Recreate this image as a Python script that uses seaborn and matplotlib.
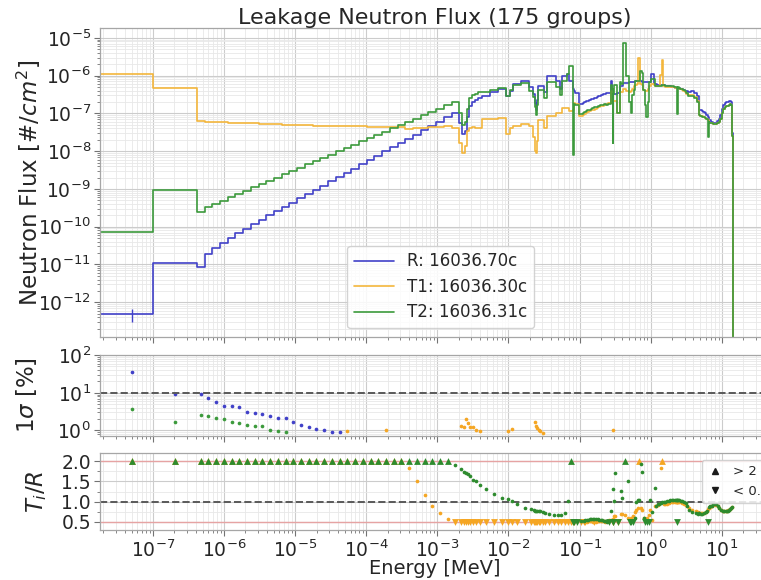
import numpy as np
import matplotlib
matplotlib.use("Agg")
import matplotlib.pyplot as plt
from matplotlib.lines import Line2D
from matplotlib.ticker import LogLocator, FixedLocator, MultipleLocator, FormatStrFormatter, NullFormatter
import seaborn as sns

# ---------------------------------------------------------------- data
# 175-group energy boundaries [MeV], ascending
edges = [
    1.0e-11, 1.0e-7, 4.1399e-7, 5.3158e-7, 6.8256e-7, 8.7642e-7, 1.1254e-6, 1.4450e-6, 1.8554e-6, 2.3824e-6,
    3.0590e-6, 3.9279e-6, 5.0435e-6, 6.4760e-6, 8.3153e-6, 1.0677e-5, 1.3710e-5, 1.7604e-5, 2.2603e-5, 2.9023e-5,
    3.7266e-5, 4.7851e-5, 6.1442e-5, 7.8893e-5, 1.0130e-4, 1.3007e-4, 1.6702e-4, 2.1445e-4, 2.7536e-4, 3.5357e-4,
    4.5400e-4, 5.8295e-4, 7.4852e-4, 9.6112e-4, 1.2341e-3, 1.5846e-3, 2.0347e-3, 2.2487e-3, 2.4852e-3, 2.6126e-3,
    2.7465e-3, 3.0354e-3, 3.3546e-3, 3.7074e-3, 4.3074e-3, 5.5308e-3, 7.1017e-3, 9.1188e-3, 1.0595e-2, 1.1709e-2,
    1.5034e-2, 1.9305e-2, 2.1875e-2, 2.3579e-2, 2.4176e-2, 2.4788e-2, 2.6058e-2, 2.7000e-2, 2.8501e-2, 3.1828e-2,
    3.4307e-2, 4.0868e-2, 4.6309e-2, 5.2475e-2, 5.6562e-2, 6.7379e-2, 7.2000e-2, 7.9500e-2, 8.2500e-2, 8.6517e-2,
    9.8037e-2, 1.1109e-1, 1.1679e-1, 1.2277e-1, 1.2907e-1, 1.3569e-1, 1.4264e-1, 1.4996e-1, 1.5764e-1, 1.6573e-1,
    1.7422e-1, 1.8316e-1, 1.9255e-1, 2.0242e-1, 2.1280e-1, 2.2371e-1, 2.3518e-1, 2.4724e-1, 2.7324e-1, 2.8725e-1,
    2.9452e-1, 2.9720e-1, 2.9850e-1, 3.0197e-1, 3.3373e-1, 3.6883e-1, 3.8774e-1, 4.0762e-1, 4.5049e-1, 4.9787e-1,
    5.2340e-1, 5.5023e-1, 5.7844e-1, 6.0810e-1, 6.3928e-1, 6.7206e-1, 7.0651e-1, 7.4274e-1, 7.8082e-1, 8.2085e-1,
    8.6294e-1, 9.0718e-1, 9.6164e-1, 1.0026, 1.1080, 1.1648, 1.2246, 1.2874, 1.3534, 1.4227,
    1.4957, 1.5724, 1.6530, 1.7377, 1.8268, 1.9205, 2.0190, 2.1225, 2.2313, 2.3069,
    2.3457, 2.3653, 2.3851, 2.4660, 2.5924, 2.7253, 2.8651, 3.0119, 3.1664, 3.3287,
    3.6788, 4.0657, 4.4933, 4.7237, 4.9659, 5.2205, 5.4881, 5.7695, 6.0653, 6.3763,
    6.5924, 6.7032, 7.0469, 7.4082, 7.7880, 8.1873, 8.6071, 9.0484, 9.5123, 10.0,
    10.513, 11.052, 11.618, 12.214, 12.523, 12.840, 13.499, 13.840, 14.191, 14.550,
    14.918, 15.683, 16.487, 16.905, 17.333, 19.640,
]

# reference library R, leakage flux per group [#/cm^2]
flux_r = [
    4.8e-13, 1.1e-11, 8.5e-12, 1.9e-11, 2.75e-11, 3.8e-11, 5.0e-11, 6.8e-11, 8.9e-11, 1.17e-10,
    1.51e-10, 2.0e-10, 2.57e-10, 3.31e-10, 4.27e-10, 5.6e-10, 7.2e-10, 9.3e-10, 1.23e-9, 1.58e-9,
    2.04e-9, 2.63e-9, 3.47e-9, 4.47e-9, 5.75e-9, 7.6e-9, 9.8e-9, 1.26e-8, 1.66e-8, 2.14e-8,
    2.75e-8, 3.55e-8, 4.7e-8, 6.0e-8, 7.9e-8, 1.05e-7, 5.6e-8, 2.9e-8, 3.5e-8, 8.0e-8,
    1.6e-7, 1.95e-7, 2.2e-7, 2.6e-7, 2.9e-7, 3.6e-7, 4.4e-7, 2.8e-7, 4.0e-7, 6.0e-7,
    7.4e-7, 4.9e-7, 3.3e-7, 1.9e-7, 1.2e-7, 2.2e-7, 5.4e-7, 5.4e-7, 5.4e-7, 3.6e-7,
    1.0e-6, 1.0e-6, 7.4e-7, 4.5e-7, 1.0e-6, 1.1e-6, 7.0e-7, 4.5e-7, 4.0e-7, 3.5e-7,
    1.8e-7, 1.93e-7, 2.0e-7, 2.09e-7, 2.19e-7, 2.24e-7, 2.34e-7, 2.4e-7, 2.51e-7, 2.63e-7,
    2.69e-7, 2.82e-7, 2.95e-7, 3.02e-7, 3.16e-7, 3.31e-7, 3.39e-7, 3.55e-7, 7.4e-7, 3.3e-7,
    3.3e-7, 3.3e-7, 3.3e-7, 3.3e-7, 3.5e-7, 5.4e-7, 5.4e-7, 6.5e-7, 6.5e-7, 6.6e-7,
    6.7e-7, 6.8e-7, 6.9e-7, 7.0e-7, 7.0e-7, 7.1e-7, 7.0e-7, 6.9e-7, 6.8e-7, 6.8e-7,
    6.7e-7, 6.6e-7, 6.6e-7, 1.1e-6, 6.1e-7, 6.0e-7, 5.8e-7, 5.7e-7, 5.6e-7, 5.6e-7,
    5.5e-7, 5.4e-7, 5.3e-7, 5.3e-7, 5.2e-7, 5.1e-7, 5.0e-7, 4.9e-7, 4.8e-7, 4.7e-7,
    4.7e-7, 4.7e-7, 4.7e-7, 4.6e-7, 4.4e-7, 4.3e-7, 4.1e-7, 4.0e-7, 3.8e-7, 3.6e-7,
    3.8e-7, 3.5e-7, 2.8e-7, 1.25e-7, 1.2e-7, 1.15e-7, 1.1e-7, 1.0e-7, 9.0e-8, 8.0e-8,
    7.0e-8, 6.5e-8, 6.0e-8, 5.7e-8, 5.6e-8, 5.7e-8, 6.2e-8, 7.0e-8, 9.0e-8, 1.3e-7,
    1.7e-7, 1.9e-7, 2.0e-7, 2.0e-7, 2.1e-7, 2.1e-7, 2.0e-7, 3.0e-8, 0.0, 0.0,
    0.0, 0.0, 0.0, 0.0, 0.0,
]

# test library T1 relative to R, per group
t1_over_r = [
    2.3e6, 4.4e4, 7.3e3, 3.16e3, 2.15e3, 1.53e3, 1.14e3, 824, 618, 462,
    351, 260, 198, 151, 115, 86.6, 66.7, 51.1, 38.2, 29.4,
    22.5, 17.3, 13.0, 10.1, 7.74, 5.79, 4.49, 3.45, 2.59, 1.83,
    1.5, 1.17, 0.9, 0.72, 0.58, 0.4, 0.29, 0.31, 0.4, 0.42,
    0.26, 0.22, 0.19, 0.16, 0.25, 0.2, 0.17, 0.1, 0.105, 0.078,
    0.072, 0.096, 0.07, 0.053, 0.075, 0.086, 0.12, 0.12, 0.12, 0.117,
    0.087, 0.087, 0.14, 0.23, 0.14, 0.127, 0.17, 0.27, 0.47, 0.52,
    0.48, 0.47, 0.49, 0.5, 0.51, 0.52, 0.51, 0.5, 0.49, 0.5,
    0.51, 0.52, 0.53, 0.52, 0.51, 0.5, 0.52, 0.54, 0.54, 0.56,
    0.06, 0.06, 0.64, 0.64, 0.3, 0.7, 0.7, 0.68, 0.6, 0.55,
    0.6, 0.65, 0.75, 0.8, 0.85, 4.0, 0.85, 0.8, 0.6, 0.56,
    0.6, 0.68, 0.8, 0.55, 0.9, 0.9, 0.92, 0.95, 1.82, 4.5,
    0.95, 0.93, 0.95, 0.96, 0.98, 0.99, 1.0, 1.0, 1.0, 1.0,
    1.0, 1.0, 1.0, 0.99, 0.98, 0.97, 0.95, 0.92, 0.88, 0.84,
    0.8, 0.76, 0.74, 0.73, 0.72, 0.72, 0.73, 0.75, 0.78, 0.82,
    0.85, 0.87, 0.9, 0.92, 0.93, 0.92, 0.88, 0.84, 0.8, 0.78,
    0.77, 0.77, 0.78, 0.79, 0.8, 0.82, 0.84, 0.86, 0.0, 0.0,
    0.0, 0.0, 0.0, 0.0, 0.0,
]

# test library T2 relative to R, per group
t2_over_r = [
    154, 86, 28.8, 17.4, 14.5, 12.9, 12.0, 10.9, 10.0, 9.4,
    8.9, 8.1, 7.8, 7.4, 6.9, 6.4, 6.25, 5.8, 5.4, 5.1,
    4.8, 4.56, 4.27, 4.07, 3.83, 3.55, 3.37, 3.17, 2.95, 2.8,
    2.62, 2.5, 2.34, 2.2, 2.05, 1.9, 1.8, 1.74, 1.7, 1.67,
    1.63, 1.53, 1.5, 1.42, 1.3, 1.18, 1.09, 1.06, 1.01, 0.93,
    0.85, 0.81, 0.8, 0.78, 0.77, 0.77, 0.76, 0.76, 0.75, 0.73,
    0.69, 0.68, 0.67, 0.68, 0.73, 1.02, 2.6, 0.018, 0.45, 0.48,
    0.52, 0.53, 0.54, 0.55, 0.55, 0.56, 0.56, 0.57, 0.57, 0.56,
    0.56, 0.55, 0.55, 0.54, 0.53, 0.52, 0.5, 0.49, 0.77, 1.3,
    0.05, 0.05, 1.01, 1.71, 0.3, 1.26, 1.1, 11.0, 1.5, 0.3,
    0.15, 0.45, 0.6, 1.0, 1.03, 1.03, 1.92, 1.74, 0.6, 0.25,
    0.12, 0.3, 1.05, 0.75, 1.34, 0.89, 0.93, 0.95, 0.97, 0.98,
    1.0, 1.0, 1.01, 1.02, 1.03, 1.04, 1.04, 1.04, 1.04, 1.04,
    1.04, 0.2, 1.03, 1.03, 1.02, 1.02, 1.0, 0.97, 0.9, 0.8,
    0.75, 0.72, 0.7, 0.72, 0.7, 0.7, 0.71, 0.74, 0.78, 0.3,
    0.86, 0.88, 0.9, 0.93, 0.95, 0.93, 0.88, 0.85, 0.8, 0.77,
    0.76, 0.76, 0.77, 0.78, 0.8, 0.82, 0.84, 0.86, 0.0, 0.0,
    0.0, 0.0, 0.0, 0.0, 0.0,
]

# relative statistical uncertainty [%] of the lowest groups (higher groups are below 1 %)
sigma_r_low = [36, 9.2, 9.2, 7.4, 5.8, 4.4, 4.4, 4.2, 3.1, 2.9, 2.7, 2.4, 2.1, 2.1,
               1.7, 1.42, 1.25, 1.11, 1.02, 0.92, 0.92]
sigma_t2_low = [3.8, 1.64, 2.6, 2.4, 2.1, 1.97, 1.7, 1.54, 1.36, 1.32, 1.33, 1.0, 0.95, 0.9]
# T1 uncertainty [%] in the groups where it exceeds ~1 %
sigma_t1_groups = [21, 26, 36, 37, 38, 39, 40, 41, 42, 43, 47, 48, 53, 54, 55, 56, 57, 58, 91]
sigma_t1_vals = [0.95, 1.0, 1.3, 1.2, 2.0, 1.6, 1.25, 1.2, 1.05, 0.95, 0.95, 1.1,
                 1.7, 1.3, 1.15, 1.0, 0.95, 0.85, 1.0]

series_labels = ["R: 16036.70c", "T1: 16036.30c", "T2: 16036.31c"]
THERMAL_POINT = 5.1e-8   # plotting energy of the lowest (thermal) group
RATIO_HI, RATIO_LO = 2.0, 0.5

# ---------------------------------------------------------------- style
sns.set_theme(style="whitegrid")
plt.rcParams["font.family"] = ["DejaVu Sans"]

C_R, C_T1, C_T2 = "#4141c8", "#f3b63c", "#3c9a3c"
C_T1_PT, C_T2_PT = "#f5a623", "#2e8b2e"

E = np.array(edges)
phi_r = np.array(flux_r)
phi_t1 = phi_r * np.array(t1_over_r)
phi_t2 = phi_r * np.array(t2_over_r)
assert len(E) == len(phi_r) + 1 == len(t1_over_r) + 1 == len(t2_over_r) + 1

mids = np.sqrt(E[:-1] * E[1:])
mids[0] = THERMAL_POINT

fig = plt.figure(figsize=(7.61, 5.80), dpi=100)
left, width = 100 / 761, 670 / 761
ax_f = fig.add_axes([left, 243 / 580, width, 309 / 580])
ax_s = fig.add_axes([left, 144 / 580, width, 81 / 580], sharex=ax_f)
ax_r = fig.add_axes([left, 50 / 580, width, 77 / 580], sharex=ax_f)

ax_f.set_xscale("log")
ax_f.set_yscale("log")
ax_s.set_yscale("log")

# ---------------------------------------------------------------- flux
floor = 1e-30
series = [(phi_r, C_R, series_labels[0]), (phi_t1, C_T1, series_labels[1]),
          (phi_t2, C_T2, series_labels[2])]
for phi, col, lab in series:
    y = np.append(phi, phi[-1])
    y = np.where(y > 0, y, floor)
    sns.lineplot(x=E, y=y, drawstyle="steps-post", color=col, lw=1.2,
                 label=lab, ax=ax_f, estimator=None, sort=False)

# error bar of the statistically weakest reference group
ax_f.errorbar(mids[:1], phi_r[:1], yerr=phi_r[:1] * np.array(sigma_r_low[:1]) / 100,
              fmt="none", ecolor=C_R, elinewidth=1.0)

ax_f.set_ylim(10 ** -12.92, 10 ** -4.74)
ax_f.set_xlim(10 ** -7.745, 10 ** 1.678)
ax_f.set_ylabel("Neutron Flux [#/$cm^2$]", fontsize=16.5)
ax_f.set_title("Leakage Neutron Flux (175 groups)", fontsize=16, pad=1)
leg = ax_f.legend(loc="lower left", bbox_to_anchor=(0.369, 0.029), borderaxespad=0,
                  fontsize=12, handlelength=2.4, labelspacing=0.45, frameon=True,
                  fancybox=True, framealpha=0.85, edgecolor="0.8")

# ---------------------------------------------------------------- uncertainty
k = len(sigma_r_low)
k2 = len(sigma_t2_low)
sns.scatterplot(x=mids[:k], y=sigma_r_low, color=C_R, s=7, linewidth=0, ax=ax_s, legend=False)
sns.scatterplot(x=mids[sigma_t1_groups], y=sigma_t1_vals, color=C_T1_PT, s=7, linewidth=0,
                ax=ax_s, legend=False)
sns.scatterplot(x=mids[:k2], y=sigma_t2_low, color=C_T2, s=7, linewidth=0, ax=ax_s, legend=False)
ax_s.axhline(10, color="0.35", ls="--", lw=1.4)
ax_s.set_ylim(0.71, 101)
ax_s.set_ylabel(r"1$\sigma$ [%]", fontsize=16.5)

# ---------------------------------------------------------------- ratio
for phi_t, col in [(phi_t1, C_T1_PT), (phi_t2, C_T2_PT)]:
    with np.errstate(divide="ignore", invalid="ignore"):
        ratio = phi_t / phi_r
    ok = np.isfinite(ratio)
    hi = ok & (ratio > RATIO_HI)
    lo = ok & (ratio < RATIO_LO)
    mid = ok & ~hi & ~lo
    sns.scatterplot(x=mids[mid], y=ratio[mid], color=col, s=7, linewidth=0,
                    ax=ax_r, legend=False, zorder=3)
    sns.scatterplot(x=mids[hi], y=np.full(hi.sum(), RATIO_HI), marker="^", color=col,
                    s=24, linewidth=0, ax=ax_r, legend=False, zorder=3)
    sns.scatterplot(x=mids[lo], y=np.full(lo.sum(), RATIO_LO), marker="v", color=col,
                    s=24, linewidth=0, ax=ax_r, legend=False, zorder=3)

ax_r.axhline(RATIO_HI, color="#e6a3a3", lw=1.0, zorder=1)
ax_r.axhline(RATIO_LO, color="#e6a3a3", lw=1.0, zorder=1)
ax_r.axhline(1.0, color="0.35", ls="--", lw=1.4, zorder=2)
ax_r.set_ylim(0.30, 2.20)
ax_r.yaxis.set_major_locator(FixedLocator([0.5, 1.0, 1.5, 2.0]))
ax_r.yaxis.set_minor_locator(MultipleLocator(0.25))
ax_r.yaxis.set_major_formatter(FormatStrFormatter("%.1f"))
ax_r.set_ylabel("$T_i/R$", fontsize=16.5)
ax_r.set_xlabel("Energy [MeV]", fontsize=14, labelpad=-1)
marker_handles = [Line2D([], [], ls="none", marker="^", color="k", ms=5),
                  Line2D([], [], ls="none", marker="v", color="k", ms=5)]
ax_r.legend(marker_handles, ["> 2", "< 0.5"], loc="upper left",
            bbox_to_anchor=(0.898, 0.91), borderaxespad=0, fontsize=9.5,
            handlelength=1.2, handletextpad=0.8, frameon=True, framealpha=0.85,
            edgecolor="0.8")

# ---------------------------------------------------------------- axes cosmetics
ax_f.xaxis.set_major_locator(LogLocator(base=10, numticks=40))
ax_f.xaxis.set_minor_locator(LogLocator(base=10, subs=np.arange(2, 10), numticks=400))
ax_f.xaxis.set_minor_formatter(NullFormatter())
ax_f.yaxis.set_major_locator(LogLocator(base=10, numticks=40))
ax_f.yaxis.set_minor_locator(LogLocator(base=10, subs=np.arange(2, 10), numticks=400))
ax_f.yaxis.set_minor_formatter(NullFormatter())
ax_s.yaxis.set_major_locator(LogLocator(base=10, numticks=10))
ax_s.yaxis.set_minor_locator(LogLocator(base=10, subs=np.arange(2, 10), numticks=100))
ax_s.yaxis.set_minor_formatter(NullFormatter())

for ax in (ax_f, ax_s, ax_r):
    ax.grid(True, which="major", color="0.80", lw=0.8)
    ax.grid(True, which="minor", color="0.91", lw=0.6)
    ax.set_axisbelow(True)
    ax.tick_params(which="both", direction="out", bottom=True, left=True, color="0.45",
                   labelsize=13.5, pad=2.5)
    ax.tick_params(which="major", length=4, width=0.8)
    ax.tick_params(which="minor", length=2, width=0.6)
    for s in ax.spines.values():
        s.set_color("0.65")
        s.set_linewidth(0.9)
ax_f.tick_params(labelbottom=False)
ax_s.tick_params(labelbottom=False)
ax_f.set_xlabel("")
ax_s.set_xlabel("")

# y-label positions in axes fraction
ax_f.yaxis.set_label_coords(-0.085, 0.5)
ax_s.yaxis.set_label_coords(-0.091, 0.5)
ax_r.yaxis.set_label_coords(-0.076, 0.5)

fig.savefig("out.png", dpi=100)
